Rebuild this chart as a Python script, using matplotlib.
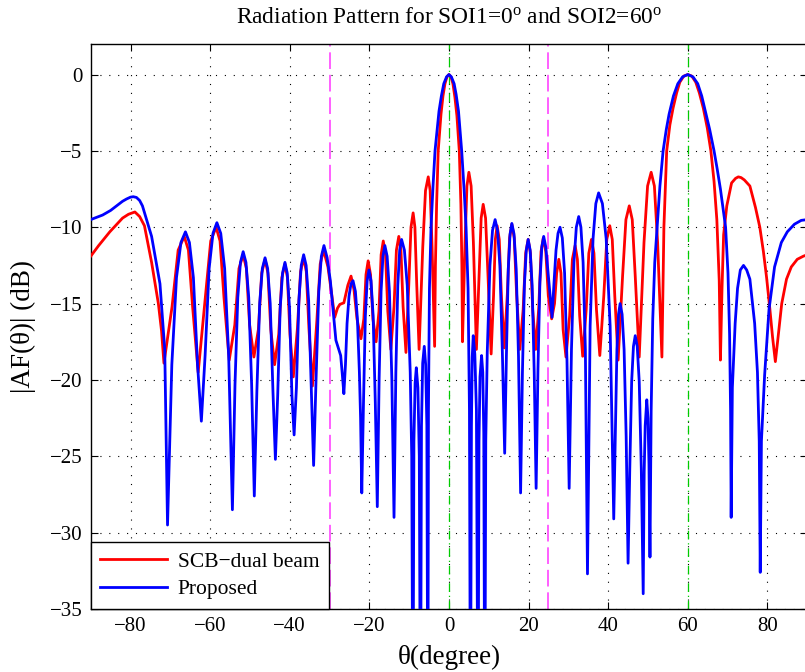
import matplotlib
matplotlib.use("Agg")
import matplotlib.pyplot as plt

plt.rcParams.update({
    'font.family': 'Liberation Serif',
    'mathtext.fontset': 'custom',
    'mathtext.rm': 'Liberation Serif',
    'mathtext.it': 'Liberation Serif:italic',
    'axes.unicode_minus': True,
})

# SCB-dual beam pattern (theta in degrees, |AF| in dB)
theta_scb = [
    -90, -88, -85.2, -82, -80.5, -78.9, -77.7, -76.5, -74.7, -73.0, -72.2, -71.6,
    -69.56, -68.03, -66.5, -65.45, -64.4, -63.0,
    -61.2, -59.85, -58.5, -57.51, -56.52, -55.2,
    -53.8, -52.75, -51.7, -50.89, -50.08, -49.0,
    -47.88, -47.04, -46.2, -45.48, -44.76, -43.8,
    -42.76, -41.98, -41.2, -40.57, -39.94, -39.1,
    -38.06, -37.28, -36.5, -35.84, -35.18, -34.3,
    -33.18, -32.34, -31.5, -30.4, -29.5, -28.7, -28.0, -27.4, -26.4, -25.4, -24.6, -23.85, -23.1, -22.1,
    -21.38, -20.84, -20.3, -19.7, -19.1, -18.3,
    -17.58, -17.04, -16.5, -15.93, -15.36, -14.6,
    -13.8, -13.2, -12.6, -12.06, -11.52, -10.8,
    -10.08, -9.54, -9.0, -8.55, -8.1, -7.5,
    -6.58, -5.89, -5.2, -4.72, -4.24, -3.6,
    -3.4, -3.1, -2.7, -2.0, -1.5, -1.0, -0.5, 0, 0.5, 1.0, 1.5, 2.0, 2.6, 3.0, 3.25, 3.4,
    4.04, 4.52, 5.0, 5.57, 6.14, 6.9,
    7.58, 8.09, 8.6, 9.2, 9.8, 10.6,
    11.2, 11.65, 12.1, 12.64, 13.18, 13.9,
    14.66, 15.23, 15.8, 16.4, 17.0, 17.8,
    18.64, 19.27, 19.9, 20.47, 21.04, 21.8,
    22.56, 23.13, 23.7, 24.33, 24.96, 25.8,
    26.52, 27.06, 27.6, 28.14, 28.68, 29.4,
    30.32, 31.01, 31.7, 32.27, 32.84, 33.6,
    34.48, 35.14, 35.8, 36.43, 37.06, 37.9,
    38.9, 39.65, 40.4, 41.03, 41.66, 42.5,
    43.62, 44.46, 45.3, 46.05, 46.8, 47.8,
    49.0, 49.9, 50.8, 51.61, 52.42, 53.5,
    53.75, 54.0, 54.7, 55.5, 56.3, 57.2, 58.0, 59.0, 60, 61.0, 62.0, 62.9, 63.9, 64.9, 65.8, 66.6, 67.3, 67.9, 68.2,
    68.6, 69.0, 69.8, 71.0, 72.0, 72.7, 73.4, 74.2, 75.6, 77.0, 78.1, 79.0, 79.8, 80.6, 81.3, 82.0,
    82.6, 83.6, 84.8, 86.0, 87.5, 89, 90,
]
af_scb = [
    -11.9, -11.2, -10.3, -9.4, -9.15, -9.0, -9.3, -9.9, -12.3, -15.0, -16.8, -18.9,
    -15.2, -11.5, -10.6, -11.5, -15.2, -19.5,
    -14.6, -10.9, -10.0, -10.9, -14.6, -18.7,
    -16.4, -12.7, -11.8, -12.7, -16.4, -18.5,
    -16.7, -13.0, -12.1, -13.0, -16.7, -19.0,
    -17.0, -13.3, -12.4, -13.3, -17.0, -19.8,
    -16.6, -12.9, -12.0, -12.9, -16.6, -20.4,
    -16.1, -12.4, -11.5, -12.6, -14.3, -15.9, -15.3, -15.05, -14.95, -13.8, -13.2, -14.1, -16.0, -17.3,
    -16.0, -13.1, -12.2, -13.1, -16.0, -17.5,
    -15.5, -11.8, -10.9, -11.8, -15.5, -18.0,
    -15.2, -11.5, -10.6, -11.5, -15.2, -18.2,
    -13.7, -10.0, -9.06, -10.0, -13.7, -18.0,
    -11.3, -7.6, -6.7, -7.6, -11.3, -17.8,
    -12.5, -8.5, -5.0, -2.6, -1.4, -0.6, -0.15, 0, -0.15, -0.6, -1.5, -2.7, -5.0, -8.5, -12.5, -17.5,
    -11.0, -7.3, -6.4, -7.3, -11.0, -18.0,
    -13.1, -9.4, -8.5, -9.4, -13.1, -18.3,
    -14.5, -10.8, -9.9, -10.8, -14.5, -17.9,
    -14.4, -10.7, -9.8, -10.7, -14.4, -18.0,
    -15.4, -11.7, -10.8, -11.7, -15.4, -18.0,
    -15.3, -11.6, -10.7, -11.6, -14.5, -16.0,
    -15.0, -13.0, -12.1, -13.0, -16.7, -18.5,
    -15.8, -12.1, -11.2, -12.1, -15.8, -18.45,
    -15.4, -11.7, -10.8, -11.7, -15.4, -18.4,
    -14.5, -10.8, -9.9, -10.8, -14.5, -18.7,
    -13.2, -9.5, -8.6, -9.5, -13.2, -18.5,
    -11.0, -7.3, -6.4, -7.3, -11.0, -18.5,
    -14, -10, -5, -3.3, -2.2, -1.2, -0.5, -0.1, 0, -0.1, -0.5, -1.2, -2.2, -3.5, -5, -7.0, -9.5, -13.5, -18.7,
    -14, -10.5, -8.6, -7.1, -6.8, -6.7, -6.75, -6.9, -7.3, -8.7, -10.0, -11.6, -13.3, -15.3, -17.2, -18.8,
    -17.4, -15.0, -13.4, -12.6, -12.1, -11.9, -11.8,
]

# Proposed pattern
theta_prop = [
    -90, -87, -85, -82, -81, -80, -79.3, -78.5, -77.7, -77, -74.7, -72.6, -71.4, -70.7,
    -69.62, -68.45, -67.33, -66.2, -65.2, -64.2, -63.16, -62.2,
    -61.26, -60.25, -59.28, -58.3, -57.33, -56.35, -55.34, -54.4,
    -53.75, -53.05, -52.38, -51.7, -51.0, -50.3, -49.57, -48.9,
    -48.25, -47.55, -46.88, -46.2, -45.55, -44.9, -44.22, -43.6,
    -43.02, -42.4, -41.8, -41.2, -40.63, -40.05, -39.45, -38.9,
    -38.32, -37.7, -37.1, -36.5, -35.88, -35.25, -34.6, -34.0,
    -33.38, -32.7, -32.05, -31.4, -30.6, -29.8, -29.0, -28.4, -27.8, -27.2, -26.8, -26.4,
    -26.0, -25.6, -25.1, -24.6, -24.1, -23.5, -23.0, -22.5, -22.2, -21.9,
    -21.47, -21.0, -20.55, -20.1, -19.58, -19.05, -18.5, -18.0,
    -17.54, -17.05, -16.58, -16.1, -15.53, -14.95, -14.35, -13.8,
    -13.34, -12.85, -12.38, -11.9, -11.19, -10.48, -9.73, -9.35, -9.05,
    -8.8, -8.5, -8.2, -7.8, -7.45, -7.15,
    -6.9, -6.6, -6.2, -5.85, -5.55, -5.3,
    -5.15, -4.9, -4.5, -4.0, -3.5, -2.5, -1.9, -1.3, -0.6, 0, 0.6, 1.3, 1.8, 2.4, 3.2, 3.8, 4.3, 4.8, 5.15, 5.4,
    5.65, 5.85, 6.1, 6.5, 6.9, 7.3,
    7.55, 7.8, 8.2, 8.5, 8.75, 9.0,
    9.25, 9.62, 10.3, 10.95, 11.6, 12.2, 12.8, 13.42, 14.0,
    14.43, 14.9, 15.35, 15.8, 16.35, 16.9, 17.47, 18.0,
    18.46, 18.95, 19.43, 19.9, 20.4, 20.9, 21.42, 21.9,
    22.36, 22.85, 23.33, 23.8, 24.33, 24.85, 25.4, 25.9,
    26.4, 26.9, 27.4, 27.9, 28.48, 29.05, 29.65, 30.2,
    30.78, 31.4, 32.0, 32.6, 33.15, 33.7, 34.27, 34.8,
    35.47, 36.2, 36.9, 37.6, 38.55, 39.5, 40.49, 41.4,
    41.78, 42.2, 42.6, 43.0, 43.5, 44.0, 44.52, 45.0,
    45.43, 45.9, 46.35, 46.8, 47.3, 47.8, 48.32, 48.8,
    49.05, 49.3, 49.7, 50.0, 50.25, 50.5,
    50.8, 51.2, 51.7, 52.3, 53.0, 53.8, 54.6, 55.3, 56.4, 57.5, 58.7, 60, 61.3, 62.5, 63.5, 64.5, 65.5, 66.6,
    67.4, 68.2, 69.5, 70.1, 70.5, 70.75, 70.9,
    71.2, 71.9, 72.5, 73.2, 74.0, 74.8, 75.6, 76.8, 77.5, 77.95, 78.2,
    78.5, 79.3, 80.4, 81.8, 83.5, 85, 86.8, 88.5, 90,
]
af_prop = [
    -9.5, -9.2, -8.9, -8.3, -8.15, -8.03, -8.0, -8.05, -8.25, -8.6, -10.6, -13.7, -18.0, -29.5,
    -19.0, -13.3, -11.0, -10.3, -11.0, -13.3, -19.0, -22.7,
    -18.4, -12.7, -10.4, -9.7, -10.4, -12.7, -18.4, -28.5,
    -20.3, -14.6, -12.3, -11.6, -12.3, -14.6, -20.3, -27.6,
    -20.7, -15.0, -12.7, -12.0, -12.7, -15.0, -20.7, -25.2,
    -21.0, -15.3, -13.0, -12.3, -13.0, -15.3, -21.0, -23.6,
    -20.5, -14.8, -12.5, -11.8, -12.5, -14.8, -20.5, -25.6,
    -19.9, -14.2, -11.9, -11.2, -12.0, -13.5, -15.7, -17.4, -17.9, -18.4, -19.6, -20.9,
    -19.0, -16.3, -14.5, -13.7, -13.5, -14.2, -16.0, -19.5, -22.5, -27.4,
    -21.5, -15.8, -13.5, -12.8, -13.5, -15.8, -21.5, -28.3,
    -19.9, -14.2, -11.9, -11.2, -11.9, -14.2, -19.9, -29.0,
    -19.5, -13.8, -11.5, -10.8, -11.5, -13.8, -19.5, -25, -45,
    -24, -20.2, -19.2, -20.5, -25, -45,
    -23, -18.9, -17.8, -19.0, -23, -45,
    -22, -14, -10, -7.3, -5, -2.4, -1.4, -0.6, -0.15, 0, -0.15, -0.6, -1.3, -2.4, -5, -7.5, -10, -14, -22, -45,
    -23, -18.5, -17.1, -18.3, -22, -45,
    -24, -19.8, -18.4, -19.5, -23.5, -45,
    -24, -18.2, -12.5, -10.2, -9.5, -10.2, -12.5, -18.2, -24.8,
    -18.45, -12.75, -10.45, -9.75, -10.45, -12.75, -18.45, -27.4,
    -19.5, -13.8, -11.5, -10.8, -11.5, -13.8, -19.5, -27.1,
    -19.3, -13.6, -11.3, -10.6, -11.3, -12.8, -14.4, -15.9,
    -13.6, -11.5, -10.4, -10.0, -10.7, -13.0, -18.7, -27.1,
    -18.0, -12.3, -10.0, -9.3, -10.0, -12.3, -18.0, -32.7,
    -16.45, -10.75, -8.45, -7.75, -8.45, -10.75, -16.45, -29.1,
    -23.7, -18.0, -15.7, -15.0, -15.7, -18.0, -23.7, -32.0,
    -25.8, -20.1, -17.8, -17.1, -17.8, -20.1, -25.8, -34.0,
    -26, -23, -21.3, -22.5, -25.5, -31.6,
    -22, -16, -12.3, -10, -7.3, -5, -3.6, -2.6, -1.4, -0.6, -0.15, 0, -0.15, -0.6, -1.4, -2.5, -3.6, -5,
    -6.2, -7.5, -10, -13, -17, -22, -29.0,
    -20.5, -16.3, -14.0, -12.8, -12.5, -12.8, -13.4, -16.3, -19.5, -24, -32.6,
    -24, -19.7, -15.4, -12.6, -11.0, -10.3, -9.8, -9.55, -9.5,
]

soi = [0, 60]             # green dash-dot markers
interf_edges = [-30, 25]  # magenta dashed markers

fig = plt.figure(figsize=(8.05, 6.72), dpi=100)
ax = fig.add_axes([90.7 / 805, 63 / 672, 716.5 / 805, 565 / 672])

ax.plot(theta_scb, af_scb, color='#FF0000', linewidth=2.0, solid_joinstyle='round',
        label='SCB\u2212dual beam', zorder=3)
ax.plot(theta_prop, af_prop, color='#0000FF', linewidth=2.0, solid_joinstyle='round',
        label='Proposed', zorder=4)

for s in soi:
    ax.axvline(s, color='#00CC00', linestyle=(0, (7, 3, 1, 3)), linewidth=0.9, zorder=2)
for e in interf_edges:
    ax.axvline(e, color='#FF44FF', linestyle=(0, (10, 3.5)), linewidth=1.2, zorder=2)

ax.set_xlim(-90, 90)
ax.set_ylim(-35, 2)
ax.set_xticks([-80, -60, -40, -20, 0, 20, 40, 60, 80])
ax.set_yticks([-35, -30, -25, -20, -15, -10, -5, 0])
ax.grid(True, color='black', linestyle=(0, (1, 7)), linewidth=0.8)
ax.tick_params(direction='in', top=True, right=True, labelsize=15, length=5, pad=6)
for sp in ax.spines.values():
    sp.set_linewidth(1.0)

ax.set_xlabel('\u03b8(degree)', fontsize=19.5, labelpad=6)
ax.set_ylabel('|AF(\u03b8)| (dB)', fontsize=19.5, labelpad=10)
ax.set_title('Radiation Pattern for SOI1=0$^{\\mathrm{o}}$ and SOI2=60$^{\\mathrm{o}}$',
             fontsize=16.8, pad=15)

leg = ax.legend(loc='lower left', fontsize=15.5, fancybox=False, framealpha=1,
                edgecolor='black', borderaxespad=0, handlelength=3.1,
                handletextpad=0.5, borderpad=0.45, labelspacing=0.35)
leg.get_frame().set_linewidth(1.0)

fig.savefig('out.png', dpi=100)
